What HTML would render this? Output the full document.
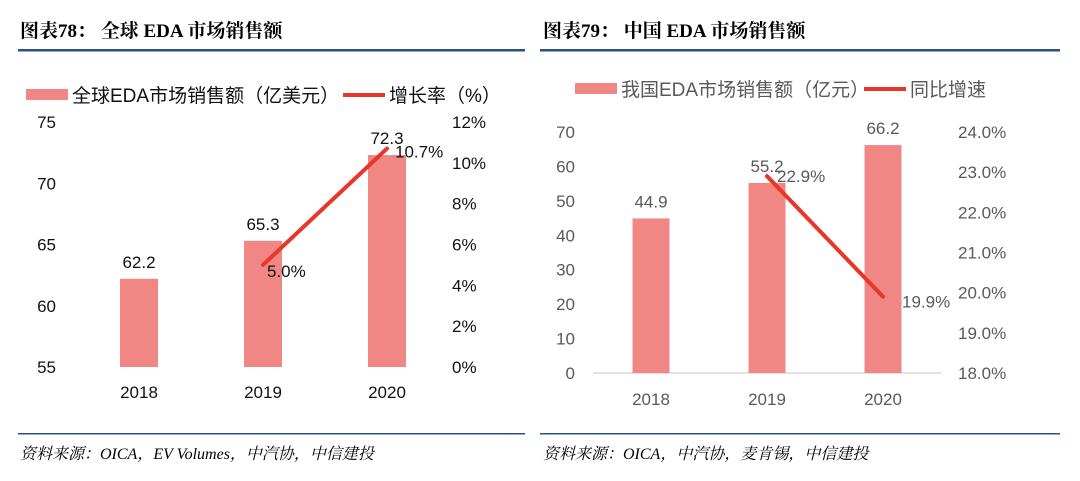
<!DOCTYPE html>
<html><head><meta charset="utf-8"><style>
body{margin:0;width:1080px;height:476px;background:#fff;overflow:hidden}
svg text{font-family:"Liberation Sans","Noto Sans CJK SC",sans-serif}
.t{font-family:"Liberation Serif","Noto Serif CJK SC",serif;font-weight:bold;font-size:19px}
.src{font-family:"Liberation Serif","Noto Serif CJK SC",serif;font-style:italic;font-size:16px}
</style></head><body>
<svg id="s" width="1080" height="476">
<text class="t" x="20" y="37">图表78：  全球 EDA 市场销售额</text>
<text class="t" x="543" y="37">图表79：  中国 EDA 市场销售额</text>
<rect x="18" y="49" width="507" height="2.5" fill="#2b5286"/>
<rect x="540" y="49" width="520" height="2.5" fill="#2b5286"/>
<rect x="18" y="433" width="507" height="1.5" fill="#2b5286"/>
<rect x="540" y="433" width="520" height="1.5" fill="#2b5286"/>
<text class="src" x="20" y="459">资料来源：OICA，EV Volumes，中汽协，中信建投</text>
<text class="src" x="543" y="459">资料来源：OICA，中汽协，麦肯锡，中信建投</text>
<rect x="26" y="89" width="42" height="11" fill="#f08784"/>
<text x="72" y="102" font-size="19" fill="#111">全球EDA市场销售额（亿美元）</text>
<rect x="343" y="93" width="42" height="4" fill="#e8372a"/>
<text x="389" y="102" font-size="19" fill="#111">增长率（%）</text>
<rect x="575" y="83" width="42" height="11" fill="#f08784"/>
<text x="621" y="96" font-size="19" fill="#595959">我国EDA市场销售额（亿元）</text>
<rect x="864" y="87" width="42" height="4" fill="#e8372a"/>
<text x="910" y="96" font-size="19" fill="#595959">同比增速</text>
</svg>
<script>
const categories=["2018","2019","2020"];
const globalSales=[62.2,65.3,72.3];
const globalGrowth=[null,5.0,10.7];
const globalLeftTicks=[55,60,65,70,75];
const globalRightTicks=[0,2,4,6,8,10,12];
const chinaSales=[44.9,55.2,66.2];
const chinaGrowth=[null,22.9,19.9];
const chinaLeftTicks=[0,10,20,30,40,50,60,70];
const chinaRightTicks=[18,19,20,21,22,23,24];
const svg=document.getElementById('s');
const NS='http://www.w3.org/2000/svg';
function mk(tag,attrs,txt){const e=document.createElementNS(NS,tag);for(const k in attrs)e.setAttribute(k,attrs[k]);if(txt!=null)e.textContent=txt;svg.appendChild(e);return e;}
function draw(c){
 const yL=v=>c.y0-(v-c.lmin)/(c.lmax-c.lmin)*(c.y0-c.y1);
 const yR=v=>c.y0-(v-c.rmin)/(c.rmax-c.rmin)*(c.y0-c.y1);
 const xC=i=>c.xs+i*c.step;
 if(c.baseline){const b=mk('line',{x1:c.bx1,x2:c.bx2,y1:c.y0,y2:c.y0,stroke:'#d9d9d9','stroke-width':1.5});
  
  }
 c.lt.forEach(v=>{const t=mk('text',{x:c.lx,y:yL(v)+6,'text-anchor':'end','font-size':17,fill:c.col},v);
  
  });
 c.rt.forEach(v=>{const t=mk('text',{x:c.rx,y:yR(v)+6,'font-size':17,fill:c.col},c.fmt(v));
  
  });
 c.cats.forEach((k,i)=>{const t=mk('text',{x:xC(i),y:c.catY,'text-anchor':'middle','font-size':17,fill:c.col},k);
  
  });
 c.bars.forEach((v,i)=>{const r=mk('rect',{x:xC(i)-c.bw/2,y:yL(v),width:c.bw,height:c.y0-yL(v),fill:'#f08784'});
  
  
  const t=mk('text',{x:xC(i),y:yL(v)-11,'text-anchor':'middle','font-size':17,fill:c.col},v.toFixed(1));
  
  });
 const pts=[];c.line.forEach((v,i)=>{if(v!=null)pts.push([xC(i),yR(v),v]);});
 const pl=mk('polyline',{points:pts.map(p=>p[0]+','+p[1]).join(' '),fill:'none',stroke:'#e8372a','stroke-width':4,'stroke-linecap':'round'});
 
 
 pts.forEach((p,j)=>{const t=mk('text',{x:p[0]+c.lo[j][0],y:p[1]+c.lo[j][1],'font-size':17,fill:c.col},p[2].toFixed(1)+'%');
  
  });
}
draw({p:'global',cats:categories,bars:globalSales,line:globalGrowth,lt:globalLeftTicks,rt:globalRightTicks,lmin:55,lmax:75,rmin:0,rmax:12,y0:367,y1:122,xs:139,step:124,bw:38,lx:56,rx:452,catY:398,col:'#111',fmt:v=>v+'%',lo:[[4,12],[8,9]],baseline:false});
draw({p:'china',cats:categories,bars:chinaSales,line:chinaGrowth,lt:chinaLeftTicks,rt:chinaRightTicks,lmin:0,lmax:70,rmin:18,rmax:24,y0:373,y1:132,xs:651,step:116,bw:37,lx:575,rx:958,catY:405,col:'#595959',fmt:v=>v.toFixed(1)+'%',lo:[[10,6],[19,11]],baseline:true,bx1:593,bx2:941});
</script>
</body></html>
